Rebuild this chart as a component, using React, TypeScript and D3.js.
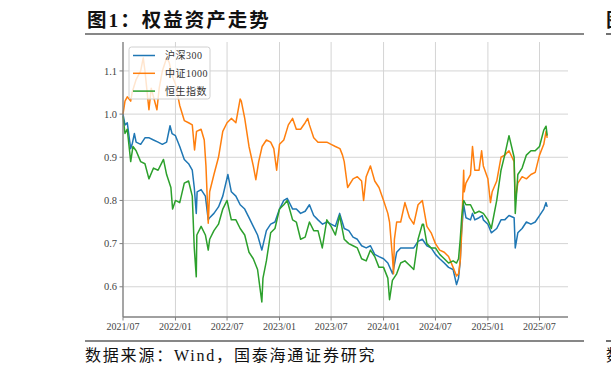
import React from 'react';
import * as d3 from 'd3';

// chart values
const xTickLabels = ['2021/07', '2022/01', '2022/07', '2023/01', '2023/07', '2024/01', '2024/07', '2025/01', '2025/07'];
const yTicks = [0.6, 0.7, 0.8, 0.9, 1.0, 1.1];
const seriesNames = ['沪深300', '中证1000', '恒生指数'];
const seriesColors = ['#1f77b4', '#ff7f0e', '#2ca02c'];

const hs300: [string, number][] = [
  ['2021-07-01', 1.0], ['2021-07-08', 0.975], ['2021-07-16', 0.98], ['2021-07-28', 0.92], ['2021-08-02', 0.93],
  ['2021-08-10', 0.955], ['2021-08-16', 0.935], ['2021-09-01', 0.93], ['2021-09-16', 0.945], ['2021-10-01', 0.945],
  ['2021-10-16', 0.94], ['2021-11-01', 0.935], ['2021-11-16', 0.93], ['2021-12-01', 0.935], ['2021-12-13', 0.973],
  ['2021-12-20', 0.955], ['2022-01-01', 0.95], ['2022-01-16', 0.925], ['2022-02-01', 0.895], ['2022-02-16', 0.885],
  ['2022-03-01', 0.87], ['2022-03-08', 0.83], ['2022-03-15', 0.77], ['2022-03-18', 0.82], ['2022-04-01', 0.825],
  ['2022-04-16', 0.81], ['2022-04-26', 0.755], ['2022-05-01', 0.76], ['2022-05-16', 0.77], ['2022-06-01', 0.785],
  ['2022-06-16', 0.81], ['2022-07-04', 0.86], ['2022-07-16', 0.82], ['2022-08-01', 0.81], ['2022-08-16', 0.79],
  ['2022-09-01', 0.78], ['2022-09-16', 0.76], ['2022-10-01', 0.74], ['2022-10-16', 0.72], ['2022-10-31', 0.685],
  ['2022-11-16', 0.73], ['2022-12-01', 0.745], ['2022-12-16', 0.75], ['2023-01-01', 0.78], ['2023-01-16', 0.8],
  ['2023-01-28', 0.805], ['2023-02-16', 0.78], ['2023-03-01', 0.78], ['2023-03-16', 0.77], ['2023-04-01', 0.775],
  ['2023-04-16', 0.79], ['2023-05-01', 0.765], ['2023-05-16', 0.755], ['2023-06-01', 0.745], ['2023-06-16', 0.75],
  ['2023-07-01', 0.745], ['2023-07-16', 0.74], ['2023-07-31', 0.77], ['2023-08-16', 0.735], ['2023-09-01', 0.73],
  ['2023-09-16', 0.715], ['2023-10-01', 0.71], ['2023-10-16', 0.695], ['2023-11-01', 0.69], ['2023-11-16', 0.695],
  ['2023-12-01', 0.675], ['2023-12-16', 0.67], ['2024-01-01', 0.665], ['2024-01-16', 0.655], ['2024-02-02', 0.63],
  ['2024-02-16', 0.68], ['2024-03-01', 0.69], ['2024-03-16', 0.69], ['2024-04-01', 0.69], ['2024-04-16', 0.69],
  ['2024-05-01', 0.705], ['2024-05-16', 0.71], ['2024-06-01', 0.695], ['2024-06-16', 0.69], ['2024-07-01', 0.675],
  ['2024-07-16', 0.665], ['2024-08-01', 0.655], ['2024-08-16', 0.645], ['2024-09-01', 0.64], ['2024-09-13', 0.605],
  ['2024-09-20', 0.62], ['2024-09-26', 0.66], ['2024-09-30', 0.72], ['2024-10-08', 0.79], ['2024-10-16', 0.76],
  ['2024-11-01', 0.755], ['2024-11-08', 0.77], ['2024-11-16', 0.755], ['2024-12-01', 0.76], ['2024-12-12', 0.765],
  ['2024-12-16', 0.755], ['2025-01-01', 0.745], ['2025-01-13', 0.725], ['2025-02-01', 0.735], ['2025-02-16', 0.755],
  ['2025-03-01', 0.755], ['2025-03-16', 0.765], ['2025-04-03', 0.76], ['2025-04-07', 0.69], ['2025-04-16', 0.725],
  ['2025-05-01', 0.735], ['2025-05-16', 0.75], ['2025-06-01', 0.745], ['2025-06-16', 0.75], ['2025-07-01', 0.765],
  ['2025-07-16', 0.78], ['2025-07-24', 0.795], ['2025-07-28', 0.785],
];

const csi1000: [string, number][] = [
  ['2021-07-01', 1.0], ['2021-07-08', 1.03], ['2021-07-16', 1.04], ['2021-07-28', 1.03], ['2021-08-02', 1.05],
  ['2021-08-16', 1.08], ['2021-09-01', 1.1], ['2021-09-10', 1.13], ['2021-09-16', 1.1], ['2021-09-30', 1.01],
  ['2021-10-08', 1.06], ['2021-10-16', 1.04], ['2021-10-28', 1.01], ['2021-11-05', 1.06], ['2021-11-16', 1.1],
  ['2021-12-01', 1.13], ['2021-12-10', 1.12], ['2021-12-20', 1.09], ['2022-01-01', 1.07], ['2022-01-16', 1.02],
  ['2022-02-01', 0.985], ['2022-02-16', 0.98], ['2022-03-01', 0.975], ['2022-03-09', 0.917], ['2022-03-16', 0.96],
  ['2022-04-01', 0.965], ['2022-04-12', 0.94], ['2022-04-18', 0.88], ['2022-04-26', 0.747], ['2022-05-01', 0.82],
  ['2022-05-16', 0.86], ['2022-06-01', 0.9], ['2022-06-16', 0.96], ['2022-07-01', 0.98], ['2022-07-16', 0.99],
  ['2022-08-01', 0.98], ['2022-08-16', 1.035], ['2022-08-20', 1.03], ['2022-09-01', 0.99], ['2022-09-16', 0.925],
  ['2022-10-01', 0.88], ['2022-10-10', 0.848], ['2022-10-20', 0.89], ['2022-11-01', 0.925], ['2022-11-16', 0.94],
  ['2022-12-01', 0.935], ['2022-12-12', 0.92], ['2022-12-22', 0.87], ['2023-01-01', 0.93], ['2023-01-16', 0.94],
  ['2023-02-01', 0.975], ['2023-02-16', 0.99], ['2023-03-01', 0.965], ['2023-03-16', 0.965], ['2023-04-01', 0.98],
  ['2023-04-10', 0.99], ['2023-04-16', 0.975], ['2023-05-01', 0.945], ['2023-05-16', 0.935], ['2023-06-01', 0.935],
  ['2023-06-16', 0.935], ['2023-07-01', 0.93], ['2023-07-16', 0.925], ['2023-08-01', 0.92], ['2023-08-10', 0.905],
  ['2023-08-16', 0.89], ['2023-08-28', 0.83], ['2023-09-16', 0.85], ['2023-10-01', 0.855], ['2023-10-16', 0.845],
  ['2023-10-23', 0.8], ['2023-11-01', 0.855], ['2023-11-16', 0.88], ['2023-12-01', 0.845], ['2023-12-16', 0.83],
  ['2024-01-01', 0.8], ['2024-01-16', 0.77], ['2024-01-22', 0.75], ['2024-02-01', 0.67], ['2024-02-05', 0.63],
  ['2024-02-08', 0.71], ['2024-02-16', 0.75], ['2024-03-01', 0.75], ['2024-03-16', 0.795], ['2024-04-01', 0.76],
  ['2024-04-16', 0.745], ['2024-05-01', 0.79], ['2024-05-16', 0.8], ['2024-06-01', 0.74], ['2024-06-16', 0.725],
  ['2024-07-01', 0.7], ['2024-07-16', 0.685], ['2024-08-01', 0.68], ['2024-08-16', 0.67], ['2024-09-01', 0.645],
  ['2024-09-13', 0.625], ['2024-09-20', 0.63], ['2024-09-26', 0.66], ['2024-09-30', 0.71], ['2024-10-08', 0.87],
  ['2024-10-10', 0.82], ['2024-10-16', 0.84], ['2024-11-01', 0.86], ['2024-11-08', 0.925], ['2024-11-16', 0.87],
  ['2024-12-01', 0.87], ['2024-12-10', 0.915], ['2024-12-16', 0.88], ['2025-01-01', 0.85], ['2025-01-10', 0.795],
  ['2025-01-16', 0.82], ['2025-02-01', 0.845], ['2025-02-16', 0.9], ['2025-03-01', 0.905], ['2025-03-16', 0.915],
  ['2025-04-03', 0.89], ['2025-04-07', 0.8], ['2025-04-16', 0.84], ['2025-05-01', 0.855], ['2025-05-16', 0.85],
  ['2025-06-01', 0.86], ['2025-06-16', 0.865], ['2025-07-01', 0.905], ['2025-07-16', 0.93], ['2025-07-24', 0.96],
  ['2025-07-28', 0.945],
];

const hsi: [string, number][] = [
  ['2021-07-01', 0.995], ['2021-07-08', 0.955], ['2021-07-16', 0.965], ['2021-07-28', 0.89], ['2021-08-05', 0.925],
  ['2021-08-16', 0.915], ['2021-09-01', 0.89], ['2021-09-16', 0.885], ['2021-09-30', 0.85], ['2021-10-16', 0.875],
  ['2021-11-01', 0.87], ['2021-11-16', 0.89], ['2021-11-20', 0.895], ['2021-12-01', 0.86], ['2021-12-16', 0.83],
  ['2021-12-22', 0.78], ['2022-01-01', 0.8], ['2022-01-16', 0.795], ['2022-02-01', 0.84], ['2022-02-16', 0.845],
  ['2022-03-01', 0.81], ['2022-03-08', 0.69], ['2022-03-15', 0.623], ['2022-03-17', 0.72], ['2022-04-01', 0.74],
  ['2022-04-16', 0.72], ['2022-04-26', 0.685], ['2022-05-01', 0.71], ['2022-05-16', 0.73], ['2022-06-01', 0.745],
  ['2022-06-16', 0.78], ['2022-07-01', 0.8], ['2022-07-16', 0.755], ['2022-08-01', 0.755], ['2022-08-16', 0.735],
  ['2022-09-01', 0.72], ['2022-09-16', 0.68], ['2022-10-01', 0.665], ['2022-10-16', 0.64], ['2022-10-24', 0.6],
  ['2022-10-31', 0.565], ['2022-11-04', 0.62], ['2022-11-16', 0.66], ['2022-12-01', 0.725], ['2022-12-16', 0.735],
  ['2023-01-01', 0.78], ['2023-01-16', 0.79], ['2023-01-28', 0.8], ['2023-02-16', 0.755], ['2023-03-01', 0.75],
  ['2023-03-16', 0.71], ['2023-04-01', 0.715], ['2023-04-16', 0.75], ['2023-05-01', 0.73], ['2023-05-16', 0.73],
  ['2023-05-31', 0.69], ['2023-06-16', 0.755], ['2023-07-01', 0.74], ['2023-07-16', 0.72], ['2023-07-31', 0.765],
  ['2023-08-16', 0.71], ['2023-09-01', 0.7], ['2023-09-16', 0.695], ['2023-10-01', 0.69], ['2023-10-16', 0.665],
  ['2023-11-01', 0.66], ['2023-11-16', 0.685], ['2023-12-01', 0.67], ['2023-12-16', 0.645], ['2024-01-01', 0.645],
  ['2024-01-16', 0.62], ['2024-01-22', 0.57], ['2024-02-01', 0.615], ['2024-02-16', 0.63], ['2024-03-01', 0.655],
  ['2024-03-16', 0.66], ['2024-04-01', 0.65], ['2024-04-16', 0.64], ['2024-05-01', 0.71], ['2024-05-16', 0.745],
  ['2024-05-20', 0.745], ['2024-06-01', 0.7], ['2024-06-16', 0.69], ['2024-07-01', 0.69], ['2024-07-16', 0.675],
  ['2024-08-01', 0.665], ['2024-08-16', 0.655], ['2024-09-01', 0.66], ['2024-09-13', 0.655], ['2024-09-20', 0.665],
  ['2024-09-26', 0.71], ['2024-10-01', 0.76], ['2024-10-08', 0.8], ['2024-10-16', 0.79], ['2024-11-01', 0.79],
  ['2024-11-16', 0.77], ['2024-12-01', 0.775], ['2024-12-16', 0.77], ['2025-01-01', 0.755], ['2025-01-13', 0.735],
  ['2025-02-01', 0.8], ['2025-02-16', 0.87], ['2025-03-01', 0.905], ['2025-03-16', 0.95], ['2025-04-03', 0.9],
  ['2025-04-07', 0.77], ['2025-04-16', 0.86], ['2025-05-01', 0.875], ['2025-05-16', 0.905], ['2025-06-01', 0.915],
  ['2025-06-16', 0.915], ['2025-07-01', 0.925], ['2025-07-16', 0.963], ['2025-07-24', 0.972], ['2025-07-28', 0.95],
];

const allSeries = [hs300, csi1000, hsi];

const parse = d3.timeParse('%Y-%m-%d');
const parseTick = d3.timeParse('%Y/%m');

export default function App() {
  const width = 611;
  const height = 375;
  const plot = { left: 123, right: 568, top: 42, bottom: 317 };

  const x = d3.scaleTime()
    .domain([parse('2021-07-01') as Date, parse('2025-10-09') as Date])
    .range([plot.left, plot.right]);
  const y = d3.scaleLinear()
    .domain([0.53, 1.167])
    .range([plot.bottom, plot.top]);

  const line = d3.line<[string, number]>()
    .x((d) => x(parse(d[0]) as Date))
    .y((d) => y(d[1]));

  const serif = "'Liberation Serif', 'DejaVu Serif', 'Noto Sans CJK SC', serif";
  const tickColor = '#444';

  return (
    <svg width={width} height={height} style={{ position: 'absolute', left: 0, top: 0, background: '#fff' }}>
      {/* title, plus the edge of the next panel's title on the right */}
      <text x={87} y={27} fontFamily={serif} fontWeight="bold" fontSize={19.5} letterSpacing={2} fill="#111">图1：权益资产走势</text>
      <line x1={85} x2={584} y1={34} y2={34} stroke="#111" strokeWidth={1.2} />
      <text x={606} y={27} fontFamily={serif} fontWeight="bold" fontSize={19.5} fill="#111">图</text>
      <line x1={606} x2={611} y1={34} y2={34} stroke="#111" strokeWidth={1.2} />

      {/* grid */}
      <g>
        {xTickLabels.map((t) => (
          <line key={t} x1={x(parseTick(t) as Date)} x2={x(parseTick(t) as Date)} y1={plot.top} y2={plot.bottom}
            stroke="#d4d4d4" strokeWidth={1} />
        ))}
        {yTicks.map((t) => (
          <line key={t} x1={plot.left} x2={plot.right} y1={y(t)} y2={y(t)} stroke="#d4d4d4" strokeWidth={1} />
        ))}
      </g>

      {/* series */}
      <g fill="none" strokeWidth={1.5} strokeLinejoin="round">
        {allSeries.map((s, i) => (
          <path key={seriesNames[i]} d={line(s) || ''} stroke={seriesColors[i]} />
        ))}
      </g>

      {/* spines */}
      <line x1={plot.left} x2={plot.left} y1={plot.top} y2={plot.bottom} stroke="#808080" strokeWidth={1.3} />
      <line x1={plot.left} x2={plot.right} y1={plot.bottom} y2={plot.bottom} stroke="#808080" strokeWidth={1.3} />

      {/* y axis */}
      <g fontFamily={serif} fontSize={10.5} fill={tickColor}>
        {yTicks.map((t) => (
          <g key={t}>
            <line x1={plot.left - 3.5} x2={plot.left} y1={y(t)} y2={y(t)} stroke="#808080" strokeWidth={1} />
            <text x={plot.left - 6} y={y(t)} dy="0.35em" textAnchor="end">{t.toFixed(1)}</text>
          </g>
        ))}
      </g>

      {/* x axis */}
      <g fontFamily={serif} fontSize={10} fill={tickColor}>
        {xTickLabels.map((t) => (
          <g key={t}>
            <line x1={x(parseTick(t) as Date)} x2={x(parseTick(t) as Date)} y1={plot.bottom} y2={plot.bottom + 3.5}
              stroke="#808080" strokeWidth={1} />
            <text x={x(parseTick(t) as Date)} y={plot.bottom + 13} textAnchor="middle">{t}</text>
          </g>
        ))}
      </g>

      {/* legend */}
      <g>
        <rect x={129} y={47} width={81} height={52} rx={2.5} fill="#fff" fillOpacity={0.8} stroke="#d0d0d0" strokeWidth={1} />
        {seriesNames.map((n, i) => (
          <g key={n} transform={`translate(0, ${55.5 + i * 17.8})`}>
            <line x1={133} x2={155} y1={0} y2={0} stroke={seriesColors[i]} strokeWidth={1.5} />
            <text x={165} y={0} dy="0.35em" fontFamily={serif} fontSize={10} letterSpacing={0.5} fill="#333">{n}</text>
          </g>
        ))}
      </g>

      {/* source, plus the edge of the next panel's source on the right */}
      <line x1={85} x2={584} y1={341} y2={341} stroke="#111" strokeWidth={1.2} />
      <text x={85} y={361} fontFamily={serif} fontSize={16} letterSpacing={1.8} fill="#111">数据来源：Wind，国泰海通证券研究</text>
      <line x1={606} x2={611} y1={341} y2={341} stroke="#111" strokeWidth={1.2} />
      <text x={606} y={361} fontFamily={serif} fontSize={16} fill="#111">数</text>
    </svg>
  );
}
